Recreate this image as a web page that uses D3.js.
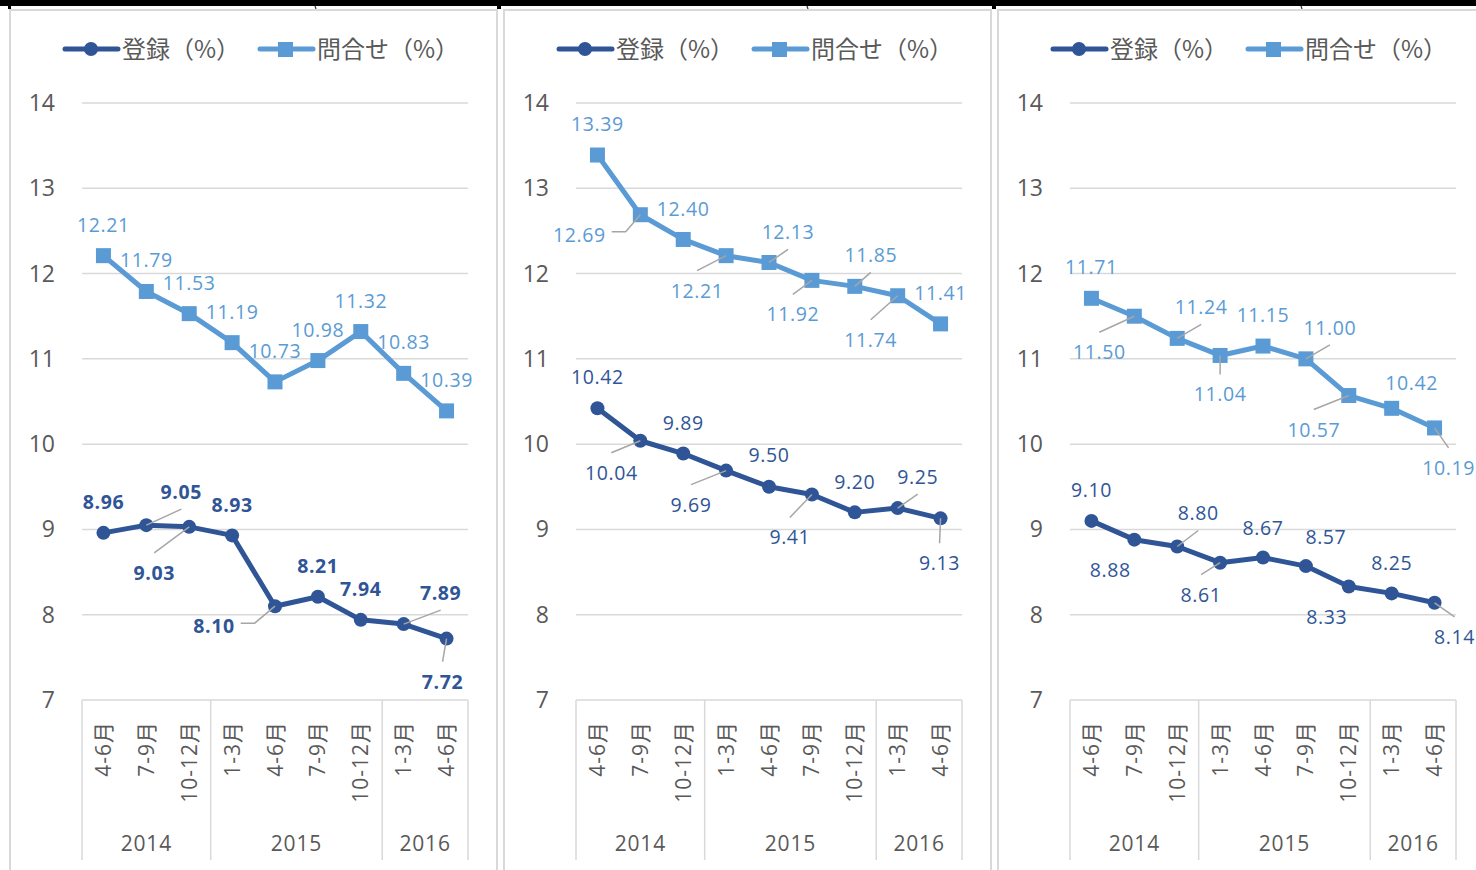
<!DOCTYPE html>
<html><head><meta charset="utf-8">
<script src="https://cdn.jsdelivr.net/npm/d3@7"></script>
<style>body{margin:0;background:#fff;} svg{display:block}</style>
</head><body>
<svg id="c" width="1476" height="870"></svg>
<script>
// ---------- data ----------
const quarters = ["4-6月","7-9月","10-12月","1-3月","4-6月","7-9月","10-12月","1-3月","4-6月"];
const years = ["2014","2015","2016"];
const yearSpans = [3,4,2];
const yTicks = [7,8,9,10,11,12,13,14];
const seriesNames = ["登録（%）","問合せ（%）"];

const reg1 = [8.96,9.05,9.03,8.93,8.10,8.21,7.94,7.89,7.72];
const inq1 = [12.21,11.79,11.53,11.19,10.73,10.98,11.32,10.83,10.39];
const reg2 = [10.42,10.04,9.89,9.69,9.50,9.41,9.20,9.25,9.13];
const inq2 = [13.39,12.69,12.40,12.21,12.13,11.92,11.85,11.74,11.41];
const reg3 = [9.10,8.88,8.80,8.61,8.67,8.57,8.33,8.25,8.14];
const inq3 = [11.71,11.50,11.24,11.04,11.15,11.00,10.57,10.42,10.19];

// ---------- label placement (layout) ----------
const regLab1 = [[0,-31],[35,-33],[-35,46],[0,-30],[-61,20],[0,-31],[0,-31],[37,-31],[-4,43]];
const regLed1 = [0,1,1,0,1,0,0,1,1];
const inqLab1 = [[0,-31],[0,-31],[0,-31],[0,-31],[0,-31],[0,-31],[0,-31],[0,-31],[0,-31]];
const inqLed1 = [0,0,0,0,0,0,0,0,0];
const regLab2 = [[0,-31],[-29,32],[0,-31],[-35,34],[0,-32],[-22,43],[0,-30],[20,-31],[-1,45]];
const regLed2 = [0,1,0,1,0,1,0,1,1];
const inqLab2 = [[0,-31],[-61,20],[0,-30],[-29,35],[19,-30],[-19,34],[16,-31],[-27,44],[0,-31]];
const inqLed2 = [0,1,0,1,1,1,1,1,0];
const regLab3 = [[0,-31],[-24,30],[21,-33],[-19,32],[0,-30],[20,-29],[-22,30],[0,-30],[20,34]];
const regLed3 = [0,0,1,1,0,0,0,0,1];
const inqLab3 = [[0,-31],[-35,36],[24,-31],[0,39],[0,-31],[24,-31],[-35,34],[20,-25],[14,40]];
const inqLed3 = [0,1,1,1,0,1,1,0,1];

const panels = [
  {reg:reg1, inq:inq1, regLab:regLab1, regLed:regLed1, inqLab:inqLab1, inqLed:inqLed1, bold:true},
  {reg:reg2, inq:inq2, regLab:regLab2, regLed:regLed2, inqLab:inqLab2, inqLed:inqLed2, bold:false},
  {reg:reg3, inq:inq3, regLab:regLab3, regLed:regLed3, inqLab:inqLab3, inqLed:inqLed3, bold:false}
];

// ---------- styles ----------
const DARK = "#2F5597", LIGHT = "#5B9BD5", GRID = "#d9d9d9", TXT = "#595959", LEAD = "#a6a6a6";
const NUMFONT = "'Open Sans','Noto Sans CJK JP',sans-serif";
const CJKFONT = "'Noto Sans CJK JP','Open Sans',sans-serif";

const svg = d3.select("#c");

// top black border fragments
svg.append("rect").attr("x",0).attr("y",0).attr("width",1476).attr("height",6).attr("fill","#000");
[[8,3],[497,4],[992,4]].forEach(([x,w])=>svg.append("rect").attr("x",x).attr("y",0).attr("width",w).attr("height",9).attr("fill","#000"));
[315,807,1301].forEach(x=>svg.append("line").attr("x1",x).attr("x2",x+1).attr("y1",6).attr("y2",9).attr("stroke","#333").attr("stroke-width",1.2));

const x = d3.scaleBand().domain(d3.range(quarters.length)).range([82,468]).padding(0);
const bw = x.bandwidth();
const cx = i => x(i) + bw/2;
const y = d3.scaleLinear().domain([7,14]).range([700,103]);

panels.forEach((p, pi) => {
  const g = svg.append("g").attr("transform", `translate(${pi*494},0)`);
  // frame
  g.append("rect").attr("x",10).attr("y",10).attr("width",487).attr("height",900)
    .attr("fill","none").attr("stroke",GRID).attr("stroke-width",2);

  // gridlines
  g.append("g").selectAll("line").data(yTicks).join("line")
    .attr("x1",82).attr("x2",468).attr("y1",d=>y(d)).attr("y2",d=>y(d))
    .attr("stroke",GRID).attr("stroke-width",1.5);
  // y tick labels
  g.append("g").selectAll("text").data(yTicks).join("text")
    .attr("x",55).attr("y",d=>y(d)+8).attr("text-anchor","end")
    .attr("font-family",NUMFONT).attr("font-size",23).attr("fill",TXT).text(d=>d);

  // category axis: group dividers
  let acc = 0;
  const bounds = [0];
  yearSpans.forEach(s=>{acc+=s; bounds.push(acc);});
  g.append("g").selectAll("line").data(bounds).join("line")
    .attr("x1",d=>x.range()[0]+d*bw).attr("x2",d=>x.range()[0]+d*bw)
    .attr("y1",y(7)).attr("y2",860).attr("stroke",GRID).attr("stroke-width",1.5);
  // quarter labels
  g.append("g").selectAll("text").data(quarters).join("text")
    .attr("transform",(d,i)=>`translate(${cx(i)},721) rotate(-90)`)
    .attr("text-anchor","end").attr("dy","0.36em")
    .attr("font-family",NUMFONT).attr("font-size",21).attr("letter-spacing",1)
    .attr("fill",TXT).text(d=>d);
  // year labels
  g.append("g").selectAll("text").data(years).join("text")
    .attr("x",(d,i)=>x.range()[0]+(bounds[i]+bounds[i+1])/2*bw)
    .attr("y",851).attr("text-anchor","middle")
    .attr("font-family",NUMFONT).attr("font-size",21).attr("letter-spacing",0.8)
    .attr("fill",TXT).text(d=>d);

  // legend
  const leg = g.append("g");
  [[63,DARK,"circle"],[258,LIGHT,"square"]].forEach(([lx,col,shape],k)=>{
    leg.append("line").attr("x1",lx+2).attr("x2",lx+55).attr("y1",49).attr("y2",49)
      .attr("stroke",col).attr("stroke-width",5).attr("stroke-linecap","round");
    if(shape==="circle") leg.append("circle").attr("cx",lx+28).attr("cy",49).attr("r",7).attr("fill",col);
    else leg.append("rect").attr("x",lx+20).attr("y",42).attr("width",15).attr("height",15).attr("fill",col);
    leg.append("text").attr("x",lx+59).attr("y",58).attr("font-family",CJKFONT)
      .attr("font-size",24).attr("fill",TXT).text(seriesNames[k]);
  });

  const series = [
    {vals:p.reg, col:DARK, shape:"circle", lab:p.regLab, led:p.regLed, bold:p.bold},
    {vals:p.inq, col:LIGHT, shape:"square", lab:p.inqLab, led:p.inqLed, bold:false}
  ];
  const line = d3.line().x((d,i)=>cx(i)).y(d=>y(d));
  series.forEach(s=>{
    g.append("path").datum(s.vals).attr("d",line).attr("fill","none")
      .attr("stroke",s.col).attr("stroke-width",5).attr("stroke-linejoin","round");
    if(s.shape==="circle"){
      g.append("g").selectAll("circle").data(s.vals).join("circle")
        .attr("cx",(d,i)=>cx(i)).attr("cy",d=>y(d)).attr("r",7).attr("fill",s.col);
    } else {
      g.append("g").selectAll("rect").data(s.vals).join("rect")
        .attr("x",(d,i)=>cx(i)-7.5).attr("y",d=>y(d)-7.5).attr("width",15).attr("height",15).attr("fill",s.col);
    }
  });
  // leaders + labels
  series.forEach(s=>{
    const lg = g.append("g");
    const tg = g.append("g");
    s.vals.forEach((v,i)=>{
      const px = cx(i), py = y(v);
      const lx = px + s.lab[i][0], ly = py + s.lab[i][1];
      const t = tg.append("text").attr("x",lx).attr("y",ly+7).attr("text-anchor","middle")
        .attr("font-family",NUMFONT).attr("font-size",19.5).attr("letter-spacing",0.6)
        .attr("font-weight",s.bold?"bold":"normal").attr("fill",s.col).text(v.toFixed(2));
      if(s.led[i]){
        const hw = t.node().getComputedTextLength()/2;
        const dx = lx-px, dy = ly-py;
        let pts;
        if(Math.abs(dy) < 25){
          const sg = Math.sign(dx);
          const ex = lx - sg*(hw+6), ey = ly-3;
          pts = [[px,py],[ex - sg*14, ey],[ex,ey]];
        } else {
          pts = [[px,py],[lx, dy<0 ? ly+17 : ly-20]];
        }
        lg.append("path").attr("d",d3.line()(pts)).attr("fill","none")
          .attr("stroke",LEAD).attr("stroke-width",1.5);
      }
    });
  });
});
</script>
</body></html>
